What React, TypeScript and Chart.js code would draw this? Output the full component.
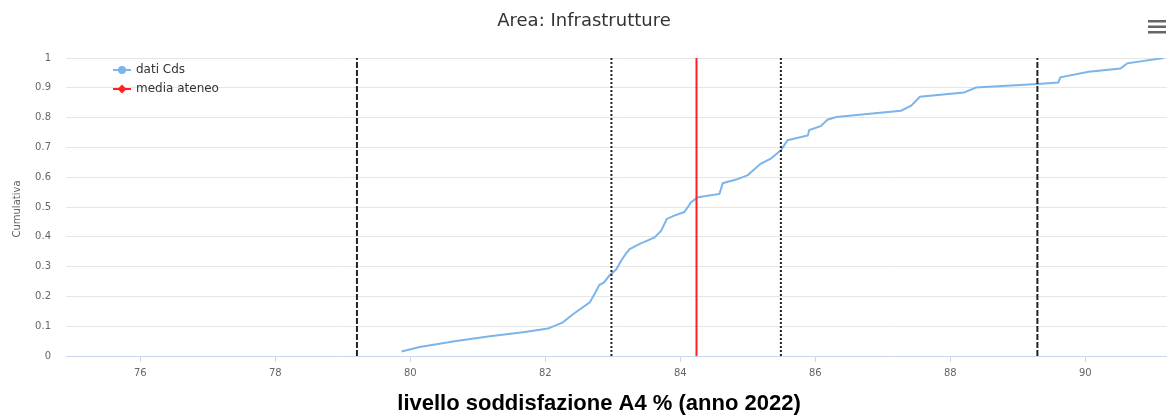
import React, { useEffect, useRef } from "react";
import { Chart, registerables } from "chart.js";

Chart.register(...registerables);

const chartTitle = "Area: Infrastrutture";
const xAxisTitle = "livello soddisfazione A4 % (anno 2022)";
const yAxisTitle = "Cumulativa";
const seriesLabel = "dati Cds";
const meanLabel = "media ateneo";

const xTicks = [76, 78, 80, 82, 84, 86, 88, 90];
const yTicks = [0, 0.1, 0.2, 0.3, 0.4, 0.5, 0.6, 0.7, 0.8, 0.9, 1];
const xMin = 74.9;
const xMax = 91.21;

const cdsX = [
  79.87, 80.14, 80.68, 81.18, 81.67, 82.04, 82.26, 82.41, 82.66, 82.73,
  82.8, 82.87, 82.95, 83.05, 83.13, 83.2, 83.25, 83.4, 83.62, 83.72,
  83.8, 83.91, 84.06, 84.16, 84.26, 84.58, 84.63, 84.83, 85.0, 85.19,
  85.34, 85.49, 85.59, 85.89, 85.91, 86.08, 86.18, 86.31, 87.27, 87.42,
  87.55, 88.2, 88.38, 89.29, 89.6, 89.63, 90.05, 90.52, 90.62, 91.16,
];
const cdsY = [
  0.015, 0.03, 0.05, 0.066, 0.08, 0.092, 0.113, 0.14, 0.18, 0.208,
  0.238, 0.247, 0.27, 0.29, 0.322, 0.345, 0.359, 0.376, 0.398, 0.421,
  0.46, 0.471, 0.483, 0.516, 0.533, 0.544, 0.58, 0.592, 0.607, 0.645,
  0.662, 0.69, 0.724, 0.74, 0.758, 0.771, 0.793, 0.802, 0.823, 0.84,
  0.87, 0.884, 0.901, 0.913, 0.918, 0.935, 0.954, 0.965, 0.982, 1.0,
];

const mediaAteneo = 84.24;
const dashedLines = [79.21, 89.29];
const dottedLines = [82.98, 85.49];

const BLUE = "#7cb5ec";
const RED = "#ff2020";

function vLine(v: number) {
  return [
    { x: v, y: 0 },
    { x: v, y: 1 },
  ];
}

const decorPlugin = {
  id: "decor",
  afterDraw(chart: any) {
    const ctx = chart.ctx;
    const area = chart.chartArea;
    ctx.save();
    // Title
    ctx.fillStyle = "#333333";
    ctx.font = '18px "DejaVu Sans"';
    ctx.textAlign = "center";
    ctx.textBaseline = "middle";
    ctx.fillText(chartTitle, 584, 21);

    // Menu icon
    ctx.fillStyle = "#666666";
    [20, 25.5, 31].forEach((y) => ctx.fillRect(1148, y, 18, 2.5));

    // Y axis title
    ctx.save();
    ctx.translate(17, (area.top + area.bottom) / 2 + 2);
    ctx.rotate(-Math.PI / 2);
    ctx.fillStyle = "#666666";
    ctx.font = '10px "DejaVu Sans"';
    ctx.textAlign = "center";
    ctx.textBaseline = "middle";
    ctx.fillText(yAxisTitle, 0, 0);
    ctx.restore();

    // X axis title
    ctx.fillStyle = "#000000";
    ctx.font = 'bold 22px "Liberation Sans"';
    ctx.textAlign = "center";
    ctx.textBaseline = "middle";
    ctx.fillText(xAxisTitle, 599, 404);

    // Legend
    const ds = chart.data.datasets;
    ctx.font = '12px "DejaVu Sans"';
    ctx.textAlign = "left";
    ctx.textBaseline = "middle";
    let y = 70;
    ctx.strokeStyle = BLUE;
    ctx.lineWidth = 2;
    ctx.beginPath();
    ctx.moveTo(113, y);
    ctx.lineTo(131, y);
    ctx.stroke();
    ctx.fillStyle = BLUE;
    ctx.beginPath();
    ctx.arc(122, y, 4, 0, Math.PI * 2);
    ctx.fill();
    ctx.fillStyle = "#333333";
    ctx.fillText(ds[0].label, 136, y);
    y = 89;
    ctx.strokeStyle = RED;
    ctx.beginPath();
    ctx.moveTo(113, y);
    ctx.lineTo(131, y);
    ctx.stroke();
    ctx.fillStyle = RED;
    ctx.beginPath();
    ctx.moveTo(122, y - 4.5);
    ctx.lineTo(126.5, y);
    ctx.lineTo(122, y + 4.5);
    ctx.lineTo(117.5, y);
    ctx.closePath();
    ctx.fill();
    ctx.fillStyle = "#333333";
    ctx.fillText(ds[1].label, 136, y);
    ctx.restore();
  },
};

export default function App() {
  const ref = useRef<HTMLCanvasElement | null>(null);

  useEffect(() => {
    document.body.style.margin = "0";
    const canvas = ref.current;
    if (!canvas) return;
    const lineDs = (v: number, dash: number[]) => ({
      label: "ref",
      data: vLine(v),
      borderColor: "#222222",
      borderWidth: 2,
      borderDash: dash,
      pointRadius: 0,
      fill: false,
      order: 1,
    });
    const chart = new Chart(canvas, {
      type: "line",
      data: {
        datasets: [
          {
            label: seriesLabel,
            data: cdsX.map((x, i) => ({ x, y: cdsY[i] })),
            borderColor: BLUE,
            backgroundColor: BLUE,
            borderWidth: 2,
            pointRadius: 0,
            tension: 0,
            fill: false,
            order: 10,
          },
          {
            label: meanLabel,
            data: vLine(mediaAteneo),
            borderColor: RED,
            backgroundColor: RED,
            borderWidth: 2,
            pointRadius: 0,
            fill: false,
            order: 0,
          },
          ...dashedLines.map((v) => lineDs(v, [6, 2])),
          ...dottedLines.map((v) => lineDs(v, [2, 2])),
        ] as any,
      },
      options: {
        animation: false,
        responsive: false,
        devicePixelRatio: 1,
        layout: { padding: { top: 58, right: 0, bottom: 0, left: 0 } },
        plugins: {
          legend: { display: false },
          tooltip: { enabled: false },
          title: { display: false },
        },
        scales: {
          x: {
            type: "linear",
            min: xMin,
            max: xMax,
            afterBuildTicks: (s: any) => {
              s.ticks = xTicks.map((v) => ({ value: v }));
            },
            afterFit: (s: any) => {
              s.height = 63;
            },
            grid: {
              drawOnChartArea: false,
              drawTicks: true,
              tickLength: 6,
              color: "#ccd6eb",
            },
            border: { display: true, color: "#ccd6eb", width: 1 },
            ticks: {
              color: "#666666",
              font: { family: "DejaVu Sans", size: 10 },
              padding: 5,
              maxRotation: 0,
              autoSkip: false,
            },
          },
          y: {
            type: "linear",
            min: 0,
            max: 1,
            afterBuildTicks: (s: any) => {
              s.ticks = yTicks.map((v) => ({ value: v }));
            },
            afterFit: (s: any) => {
              s.width = 66;
            },
            grid: { color: "#e6e6e6", drawTicks: false, lineWidth: 1 },
            border: { display: false },
            ticks: {
              color: "#666666",
              font: { family: "DejaVu Sans", size: 10 },
              padding: 15,
              callback: (v: any) => String(+Number(v).toFixed(1)),
            },
          },
        },
      } as any,
      plugins: [decorPlugin],
    });
    return () => chart.destroy();
  }, []);

  return (
    <div style={{ position: "absolute", left: 0, top: 0, width: 1167, height: 419, background: "#fff" }}>
      <canvas ref={ref} width={1167} height={419} />
    </div>
  );
}
